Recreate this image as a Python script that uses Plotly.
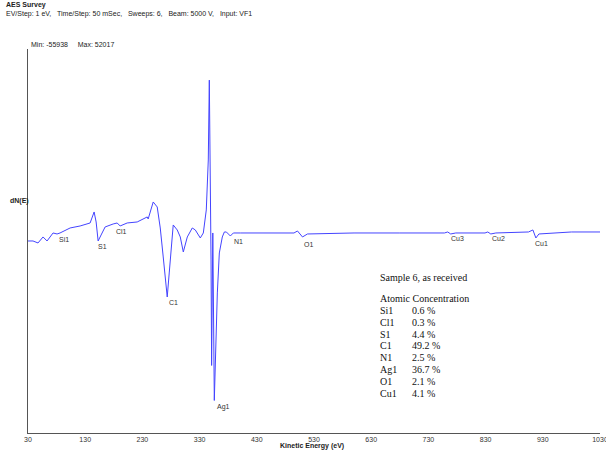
import plotly.graph_objects as go

# ---- Spectrum data (kinetic energy in eV, dN(E) counts) ----
energy = [30, 38.8, 47.5, 56.3, 63.3, 73.8, 80.8, 86.0, 103.6, 121.1, 138.6, 142.1, 145.6,
          149.1, 152.6, 157.8, 164.8, 178.9, 185.9, 191.1, 203.4, 220.9, 231.4, 238.4,
          240.1, 245.4, 248.9, 255.9, 261.2, 266.4, 273.4, 276.9, 283.9, 290.9, 296.2,
          301.5, 308.5, 317.2, 322.5, 331.2, 336.5, 341.7, 345.2, 347.0, 348.7, 350.0,
          351.0, 353.1, 355.7, 359.2, 361.0, 364.5, 369.7, 373.3, 376.8, 383.8, 389.0,
          401.3, 450.0, 495.0, 501.1, 509.9, 518.6, 600.0, 680.0, 758.0, 763.8, 769.0,
          777.8, 829.0, 833.8, 839.1, 847.9, 905.0, 912.7, 917.9, 923.2, 980.0, 1030.0]
dne = [-2190, -2190, -2865, -840, -2190, 505, 170, 505, 2190, 2865, 3875, 5900, 7580,
       4210, -2190, -170, 2530, 3540, 3875, 2865, 3875, 4210, 5220, 5900,
       5220, 8930, 10950, 9270, 2190, -7580, -21060, -12970, 3200, 1520, -840,
       -5900, -840, 2190, 1520, -1180, 505, 8260, 25100, 52017, 25100, -8590,
       -44130, 505, -55938, -28800, -19700, -6230, -840, 840, 840, -505, 505,
       505, 505, 500, 1180, -840, 170, 505, 505, 505, 840, 170,
       505, 505, 840, 170, 505, 840, 1520, -1180, 170, 840, 840]

# ---- Peak labels ----
peak_names = ["Si1", "S1", "Cl1", "C1", "N1", "Ag1", "O1", "Cu3", "Cu2", "Cu1"]
peak_energy = [93, 160, 193, 285, 398, 372, 521, 780, 852, 927]
peak_value = [-1850, -4200, 850, -23000, -2200, -58000, -3500, -1500, -1500, -2900]

# ---- Atomic concentration table ----
elements = ["Si1", "Cl1", "S1", "C1", "N1", "Ag1", "O1", "Cu1"]
concentration = ["0.6 %", "0.3 %", "4.4 %", "49.2 %", "2.5 %", "36.7 %", "2.1 %", "4.1 %"]

x_ticks = [30, 130, 230, 330, 430, 530, 630, 730, 830, 930, 1030]

W, H = 606, 452
ML, MR, MT, MB = 28, 6, 49, 19
PW, PH = W - ML - MR, H - MT - MB


def px(x):
    return (x - ML) / PW


def py(y):
    return (H - MB - y) / PH


SANS = "Liberation Sans, Arial, sans-serif"
SERIF = "Liberation Serif, Times New Roman, serif"

fig = go.Figure()
fig.add_trace(go.Scatter(x=energy, y=dne, mode="lines",
                         line=dict(color="#4444ff", width=1), hoverinfo="skip"))

annotations = []
for n, e, v in zip(peak_names, peak_energy, peak_value):
    annotations.append(dict(x=e, y=v, xref="x", yref="y", text=n, showarrow=False,
                            font=dict(family=SANS, size=7, color="#333333"),
                            xanchor="center", yanchor="middle"))

# header texts
annotations.append(dict(x=px(4), y=py(5), xref="paper", yref="paper", text="<b>AES Survey</b>",
                        showarrow=False, xanchor="left", yanchor="middle",
                        font=dict(family=SANS, size=7, color="#222222")))
annotations.append(dict(x=px(4), y=py(14), xref="paper", yref="paper",
                        text="EV/Step: 1 eV,   Time/Step: 50 mSec,   Sweeps: 6,   Beam: 5000 V,   Input: VF1",
                        showarrow=False, xanchor="left", yanchor="middle",
                        font=dict(family=SANS, size=7, color="#222222")))
annotations.append(dict(x=px(29), y=py(44), xref="paper", yref="paper",
                        text="Min: -55938     Max: 52017",
                        showarrow=False, xanchor="left", yanchor="middle",
                        font=dict(family=SANS, size=7, color="#222222")))
annotations.append(dict(x=px(8), y=py(201), xref="paper", yref="paper", text="<b>dN(E)</b>",
                        showarrow=False, xanchor="left", yanchor="middle",
                        font=dict(family=SANS, size=7, color="#222222")))
annotations.append(dict(x=px(312), y=py(446), xref="paper", yref="paper",
                        text="<b>Kinetic Energy (eV)</b>",
                        showarrow=False, xanchor="center", yanchor="middle",
                        font=dict(family=SANS, size=7, color="#222222")))

# table texts
annotations.append(dict(x=px(378), y=py(277), xref="paper", yref="paper",
                        text="Sample 6, as received", showarrow=False,
                        xanchor="left", yanchor="middle",
                        font=dict(family=SERIF, size=10, color="#111111")))
annotations.append(dict(x=px(378), y=py(298), xref="paper", yref="paper",
                        text="Atomic Concentration", showarrow=False,
                        xanchor="left", yanchor="middle",
                        font=dict(family=SERIF, size=10, color="#111111")))
for i, (el, c) in enumerate(zip(elements, concentration)):
    yy = 310.5 + i * 11.8
    annotations.append(dict(x=px(378), y=py(yy), xref="paper", yref="paper", text=el,
                            showarrow=False, xanchor="left", yanchor="middle",
                            font=dict(family=SERIF, size=10, color="#111111")))
    annotations.append(dict(x=px(410), y=py(yy), xref="paper", yref="paper", text=c,
                            showarrow=False, xanchor="left", yanchor="middle",
                            font=dict(family=SERIF, size=10, color="#111111")))

fig.update_layout(
    width=W, height=H,
    margin=dict(l=ML, r=MR, t=MT, b=MB, pad=0, autoexpand=False),
    paper_bgcolor="white", plot_bgcolor="white",
    showlegend=False,
    annotations=annotations,
    xaxis=dict(range=[30, 1030], tickvals=x_ticks, ticktext=[str(t) for t in x_ticks],
               automargin=False, ticklabeloverflow="allow",
               showgrid=False, zeroline=False, showline=True, linecolor="#555555",
               linewidth=1, ticks="", tickfont=dict(family=SANS, size=7, color="#333333")),
    yaxis=dict(range=[-66900, 62500], showgrid=False, zeroline=False, showline=True,
               automargin=False,
               linecolor="#555555", linewidth=1, showticklabels=False, ticks=""),
)

fig.write_html("out.html", config={"displayModeBar": False, "staticPlot": True},
               post_script="document.body.style.margin='0';document.body.style.overflow='hidden';")
